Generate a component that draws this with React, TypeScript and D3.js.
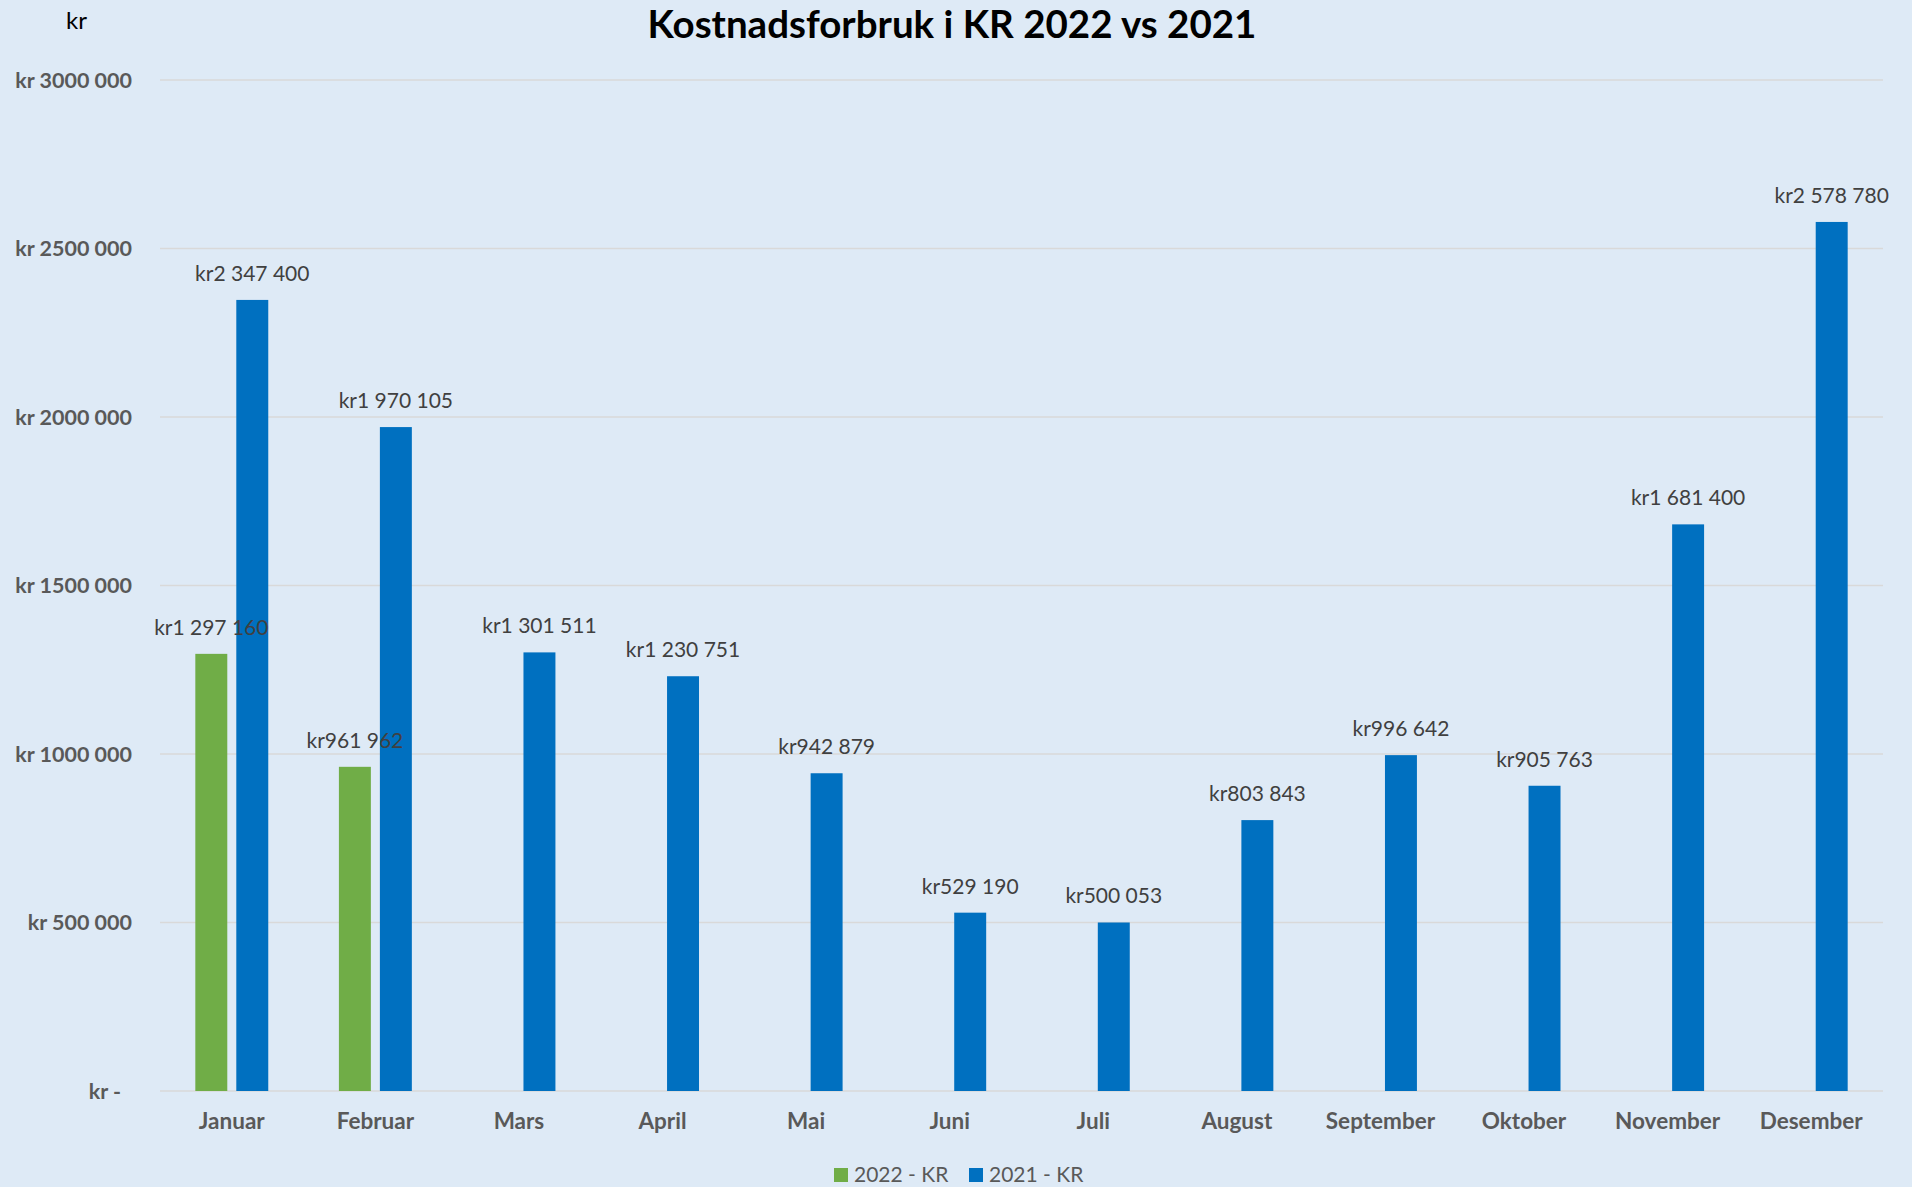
import React, {useEffect, useRef} from 'react';
import * as d3 from "d3";

const months = ["Januar", "Februar", "Mars", "April", "Mai", "Juni", "Juli", "August", "September", "Oktober", "November", "Desember"];
const series = ["2022 - KR", "2021 - KR"];
const values2022: Array<number | null> = [1297160, 961962, null, null, null, null, null, null, null, null, null, null];
const values2021: Array<number | null> = [2347400, 1970105, 1301511, 1230751, 942879, 529190, 500053, 803843, 996642, 905763, 1681400, 2578780];
const yTicks = [0, 500000, 1000000, 1500000, 2000000, 2500000, 3000000];
const colors = ["#70AD47", "#0070C0"];

const FONT = "Lato, 'Open Sans', sans-serif";

function fmtNum(v: number) {
    return d3.format(",")(v).replace(/,/g, " ");
}

function CostChart() {
    const ref = useRef<SVGSVGElement>(null);
    const width = 1912;
    const height = 1187;
    const margin = {top: 80, left: 160, right: 29, bottom: 96};

    useEffect(() => {
        const svg = d3.select(ref.current);
        svg.selectAll("*").remove();

        svg.append("rect")
            .attr("width", width)
            .attr("height", height)
            .attr("fill", "#DEEAF6");

        const innerW = width - margin.left - margin.right;
        const innerH = height - margin.top - margin.bottom;

        const x0 = d3.scaleBand<string>()
            .domain(months)
            .range([margin.left, margin.left + innerW]);
        const groupW = x0.bandwidth() * 0.508;
        const x1 = d3.scaleBand<string>()
            .domain(series)
            .range([0, groupW])
            .paddingInner(0.22);
        const y = d3.scaleLinear()
            .domain([0, 3000000])
            .range([margin.top + innerH, margin.top]);

        // grid
        svg.append("g")
            .selectAll("line")
            .data(yTicks)
            .enter().append("line")
            .attr("x1", margin.left)
            .attr("x2", margin.left + innerW)
            .attr("y1", d => y(d))
            .attr("y2", d => y(d))
            .attr("stroke", "#D9D9D9")
            .attr("stroke-width", 1.5);

        // y labels
        svg.append("g")
            .selectAll("text")
            .data(yTicks)
            .enter().append("text")
            .attr("x", 132)
            .attr("dx", d => d === 0 ? -11 : 0)
            .attr("y", d => y(d))
            .attr("dy", "0.35em")
            .attr("text-anchor", "end")
            .attr("font-family", FONT)
            .attr("font-weight", "bold")
            .attr("font-size", 21.5)
            .attr("fill", "#595959")
            .text(d => d === 0 ? "kr -" : "kr " + (d >= 1000000 ? Math.floor(d / 1000).toString() + " 000" : fmtNum(d)));

        const allSeries = [values2022, values2021];
        const barData = allSeries.map((vals, si) => {
            const off = (x0.bandwidth() - groupW) / 2 + (x1(series[si]) || 0);
            return months.map((m, i) => ({m, v: vals[i], cx: (x0(m) || 0) + off}))
                .filter(d => d.v !== null) as {m: string, v: number, cx: number}[];
        });

        // bars first, then all labels on top
        barData.forEach((data, si) => {
            svg.append("g")
                .selectAll("rect")
                .data(data)
                .enter().append("rect")
                .attr("x", d => d.cx)
                .attr("y", d => y(d.v))
                .attr("width", x1.bandwidth())
                .attr("height", d => y(0) - y(d.v))
                .attr("fill", colors[si]);
        });
        barData.forEach((data) => {
            svg.append("g")
                .selectAll("text")
                .data(data)
                .enter().append("text")
                .attr("x", d => d.cx + x1.bandwidth() / 2)
                .attr("y", d => y(d.v) - 19)
                .attr("text-anchor", "middle")
                .attr("font-family", FONT)
                .attr("font-size", 21)
                .attr("fill", "#404040")
                .text(d => "kr" + fmtNum(d.v));
        });

        // x labels
        svg.append("g")
            .selectAll("text")
            .data(months)
            .enter().append("text")
            .attr("x", d => (x0(d) || 0) + x0.bandwidth() / 2)
            .attr("y", 1129)
            .attr("text-anchor", "middle")
            .attr("font-family", FONT)
            .attr("font-weight", "bold")
            .attr("font-size", 22.5)
            .attr("fill", "#595959")
            .text(d => d);

        // title
        svg.append("text")
            .attr("x", 952)
            .attr("y", 38)
            .attr("text-anchor", "middle")
            .attr("font-family", FONT)
            .attr("font-weight", "bold")
            .attr("font-size", 38.5)
            .attr("fill", "#000000")
            .text("Kostnadsforbruk i KR 2022 vs 2021");

        svg.append("text")
            .attr("x", 66)
            .attr("y", 29)
            .attr("font-family", FONT)
            .attr("font-size", 24)
            .attr("fill", "#000000")
            .text("kr");

        // legend
        const legend = svg.append("g").attr("transform", "translate(834,1168)");
        const legX = [0, 135];
        series.forEach((s, i) => {
            legend.append("rect")
                .attr("x", legX[i])
                .attr("y", 0)
                .attr("width", 14)
                .attr("height", 14)
                .attr("fill", colors[i]);
            legend.append("text")
                .attr("x", legX[i] + 20)
                .attr("y", 7)
                .attr("dy", "0.35em")
                .attr("font-family", FONT)
                .attr("font-size", 21)
                .attr("fill", "#595959")
                .text(s);
        });
    }, []);

    return (
        <svg ref={ref} width={width} height={height} style={{position: "absolute", left: 0, top: 0}}></svg>
    );
}

export default function App() {
    return <CostChart/>;
}
